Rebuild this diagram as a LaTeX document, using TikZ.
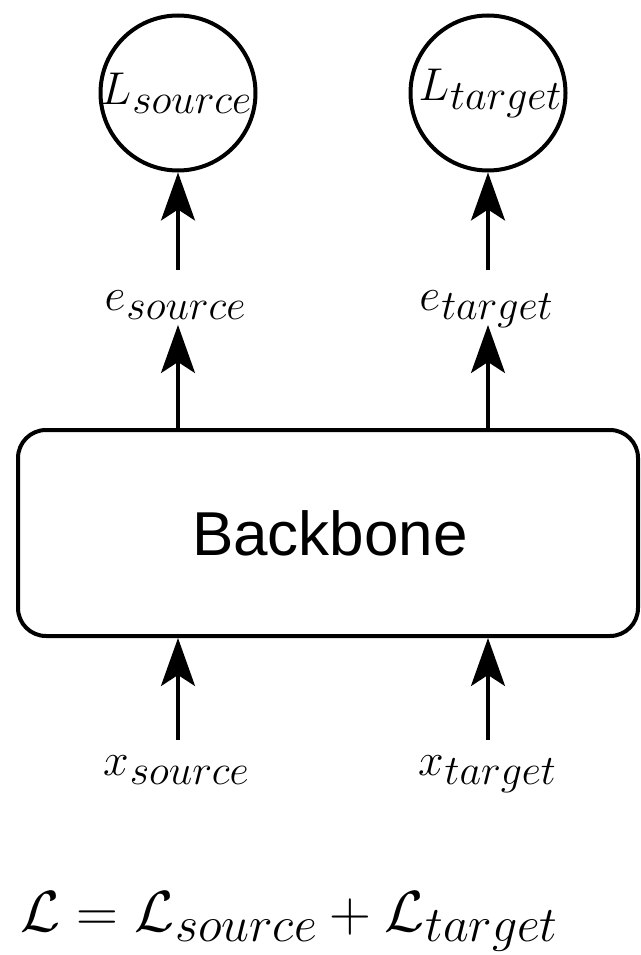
\RequirePackage{fix-cm}
\documentclass[tikz,border=0pt]{standalone}
\usepackage{fontspec}
\newfontfamily\bbfont{Liberation Sans}
\usetikzlibrary{arrows.meta}
\newcommand{\mylab}[2]{{\fontsize{46}{50}\selectfont$#1$}\kern1pt\raisebox{-0.22em}{$#2$}}
\begin{document}
\begin{tikzpicture}[x=1pt,y=-1pt,
  lossc/.style={draw,circle,line width=4pt,minimum size=155pt,inner sep=0pt},
  elab/.style={inner sep=0pt,font=\fontsize{42}{50}\selectfont},
  bbox/.style={draw,rounded corners=28pt,line width=4pt,minimum width=620pt,minimum height=206pt,inner sep=0pt},
  arr/.style={line width=3.2pt,-{Stealth[length=48pt,width=34pt,inset=11pt]}}]
\useasboundingbox (0,0) rectangle (640,955);
\node[lossc] (ls) at (178,93) {};
\node[lossc] (lt) at (488,93) {};
\node[elab] at ([xshift=-2pt]ls.center) {\mylab{L}{source}};
\node[elab] at ([xshift=2pt]lt.center) {\mylab{L}{target}};
\node[elab,text height=18pt,text depth=12pt] (es) at (175,307) {\mylab{e}{source}};
\node[elab,text height=18pt,text depth=12pt] (et) at (486,307) {\mylab{e}{target}};
\node[bbox] (bb) at (328,533) {};
\node[font=\bbfont\fontsize{62}{70}\selectfont] at ([xshift=2pt]bb.center) {Backbone};
\node[elab,text height=18pt,text depth=12pt] (xs) at (176,772) {\mylab{x}{source}};
\node[elab,text height=18pt,text depth=12pt] (xt) at (487,772) {\mylab{x}{target}};
\node[inner sep=0pt,font=\fontsize{50}{60}\selectfont] (f) at (289,922)
  {{\fontsize{58}{60}\selectfont$\mathcal{L}=\mathcal{L}$}\kern1pt\raisebox{-0.2em}{$source$}{\fontsize{58}{60}\selectfont${}+\mathcal{L}$}\kern1pt\raisebox{-0.2em}{$target$}};
\coordinate (a1) at (178,270);
\coordinate (a2) at (488,270);
\draw[arr] (a1) -- (ls.south);
\draw[arr] (a2) -- (lt.south);
\draw[arr] (bb.north -| ls.south) -- (178,325);
\draw[arr] (bb.north -| lt.south) -- (488,325);
\draw[arr] (178,740) -- (bb.south -| ls.south);
\draw[arr] (488,740) -- (bb.south -| lt.south);
\end{tikzpicture}
\end{document}
